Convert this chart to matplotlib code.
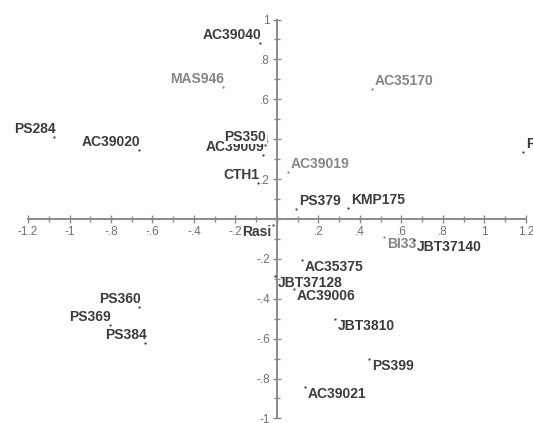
import matplotlib
matplotlib.use("Agg")
import numpy as np
import matplotlib.pyplot as plt
from matplotlib.ticker import FixedLocator, FuncFormatter

plt.rcParams['font.family'] = ['Liberation Sans', 'DejaVu Sans']

# Data
names = ["AC39040", "MAS946", "PS284", "AC39020", "AC39009", "PS350", "CTH1", "Rasi",
         "PS360", "PS369", "PS384", "AC39019", "AC35170", "PS361", "PS379", "KMP175",
         "BI33", "JBT37140", "AC35375", "JBT37128", "AC39006", "JBT3810", "PS399", "AC39021"]
x_vals = [-0.082, -0.260, -1.075, -0.665, -0.067, -0.058, -0.092, -0.019,
          -0.665, -0.805, -0.636, 0.053, 0.458, 1.186, 0.092, 0.342,
          0.516, 0.660, 0.120, -0.010, 0.082, 0.280, 0.443, 0.135]
y_vals = [0.882, 0.662, 0.411, 0.346, 0.321, 0.371, 0.180, -0.030,
          -0.441, -0.531, -0.622, 0.236, 0.652, 0.336, 0.050, 0.055,
          -0.090, -0.105, -0.206, -0.286, -0.351, -0.501, -0.702, -0.842]
# label placement: ul = upper-left, ll = lower-left, ur = upper-right, lr = lower-right
placement = ["ul", "ul", "ul", "ul", "ul", "ul", "ul", "ll",
             "ul", "ul", "ul", "ur", "ur", "ur", "ur", "ur",
             "lr", "lr", "lr", "lr", "lr", "lr", "lr", "lr"]
light = {"MAS946", "AC35170", "AC39019", "BI33"}

fig = plt.figure(figsize=(5.33, 4.23), dpi=100)
ax = fig.add_axes([0, 0, 1, 1])
ax.set_xlim(-1.335, 1.234)
ax.set_ylim(-1.023, 1.098)

axis_col = "#8a8a8a"
for s in ["top", "right"]:
    ax.spines[s].set_visible(False)
ax.spines["left"].set_position(("data", 0))
ax.spines["bottom"].set_position(("data", 0))
ax.spines["left"].set_bounds(-1, 1)
ax.spines["bottom"].set_bounds(-1.2, 1.2)
for s in ["left", "bottom"]:
    ax.spines[s].set_color(axis_col)
    ax.spines[s].set_linewidth(1.4)

ax.xaxis.set_major_locator(FixedLocator(np.round(np.arange(-1.2, 1.21, 0.2), 2)))
ax.xaxis.set_minor_locator(FixedLocator(np.round(np.arange(-1.1, 1.11, 0.2), 2)))
ax.yaxis.set_major_locator(FixedLocator(np.round(np.arange(-1.0, 1.01, 0.2), 2)))
ax.yaxis.set_minor_locator(FixedLocator(np.round(np.arange(-0.9, 0.91, 0.2), 2)))

def fmt(v, pos):
    if abs(v) < 1e-9:
        return ""
    s = f"{v:.1f}"
    if s.endswith(".0"):
        s = s[:-2]
    s = s.replace("0.", ".")
    return s

ax.xaxis.set_major_formatter(FuncFormatter(fmt))
ax.yaxis.set_major_formatter(FuncFormatter(fmt))
ax.tick_params(which="both", direction="inout", color=axis_col, width=1)
ax.tick_params(which="major", length=6, labelsize=8.5, labelcolor="#707070", pad=2)
ax.tick_params(which="minor", length=4)

for n, xv, yv, p in zip(names, x_vals, y_vals, placement):
    col = "#858585" if n in light else "#3c3c3c"
    ax.plot(xv, yv, marker="o", ms=1.6, color=col, mec="none", zorder=3)
    if p == "ul":
        ha, va, off = "right", "baseline", (1, 3)
    elif p == "ll":
        ha, va, off = "right", "top", (-1, 0)
    elif p == "ur":
        ha, va, off = "left", "baseline", (2, 3)
    else:
        ha, va, off = "left", "top", (2, 0)
    kw = {}
    if n == "PS350":
        kw["bbox"] = dict(facecolor="white", edgecolor="none", pad=0.2)
    ax.annotate(n, (xv, yv), xytext=off, textcoords="offset points",
                ha=ha, va=va, fontsize=10, fontweight="bold", color=col,
                annotation_clip=False, zorder=4 if n == "PS350" else 3, **kw)

fig.savefig("out.png", dpi=100)
